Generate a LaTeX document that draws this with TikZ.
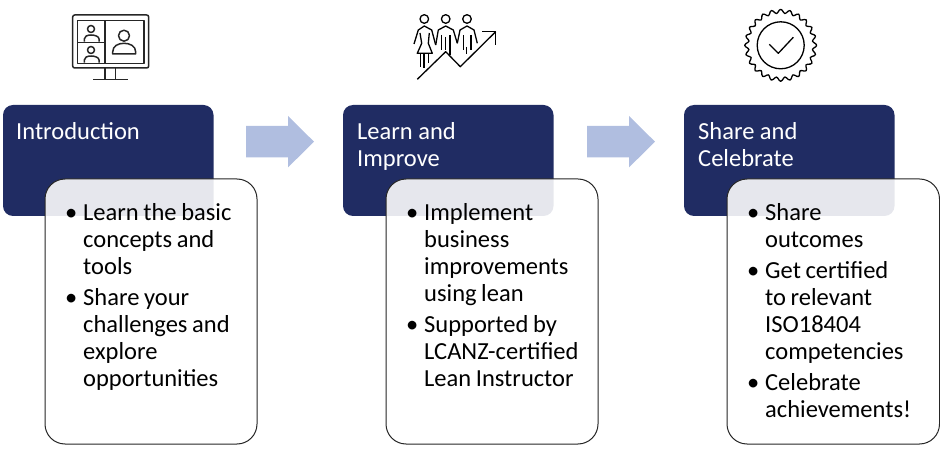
\documentclass[tikz,border=0pt]{standalone}
\usepackage{fontspec}
\setmainfont{Carlito}
\usepackage{tikz}

\definecolor{headblue}{HTML}{202C63}
\definecolor{arrowblue}{HTML}{B0BEE0}
\definecolor{framegrey}{HTML}{262626}

\newcommand{\bulitem}[1]{\par\spaceskip=4.6pt\relax\hangindent=18pt\hangafter=1\noindent\hbox to 18pt{\textbullet\hfil}#1\par}

\tikzset{
    headbox/.style={fill=headblue, rounded corners=10pt},
    bodybox/.style={draw=framegrey, line width=1pt, fill=white, fill opacity=0.89, rounded corners=20pt},
    headtext/.style={anchor=north west, inner sep=0pt, align=left, text=white, font=\fontsize{24.5}{27}\selectfont},
    bodytext/.style={anchor=north west, inner sep=0pt, align=left, text width=#1, font=\fontsize{24.5}{27}\selectfont\setlength{\parskip}{4pt}},
    icon/.style={draw=framegrey, line width=1.5pt, line join=round},
    thin icon/.style={draw=black, line width=1.3pt, line join=round}
}

\begin{document}
\begin{tikzpicture}[x=1pt,y=-1pt]

\useasboundingbox (0,0) rectangle (940,462);

\foreach \x/\y in {3/45,343/386,684/727}
    \fill [headbox] (\x,105) rectangle ++(210.5,111);

\foreach \x in {246,587}
    \fill [arrowblue] (\x,126) -- ++(42,0) -- ++(0,-10) -- ++(26,25.7) -- ++(-26,25.7) -- ++(0,-10) -- ++(-42,0) -- cycle;

\node (title1) [headtext] at (16,122) {Introduction};
\node (title2) [headtext] at (357,122) {Learn and\\Improve};
\node (title3) [headtext] at (698,122) {Share and\\Celebrate};

\draw [bodybox] (45,179) rectangle (257,444);
\draw [bodybox] (386,179) rectangle (598,444);
\draw [bodybox] (727,179) rectangle (939.5,444);

\node (list1) [bodytext=180pt] at (65,189) {%
\bulitem{Learn the basic\newline concepts and\newline tools}
\bulitem{Share your\newline challenges and\newline explore\newline opportunities}};

\node (list2) [bodytext=190pt] at (406,189) {%
\bulitem{Implement\newline business\newline improvements\newline using lean}
\bulitem{Supported by\newline LCANZ-certified\newline Lean Instructor}};

\node (list3) [bodytext=190pt] at (747,189) {%
\bulitem{Share\newline outcomes}
\bulitem{Get certified\newline to relevant\newline ISO18404\newline competencies}
\bulitem{Celebrate\newline achievements!}};

% monitor
\draw [icon, rounded corners=2pt] (72.7,15) rectangle (148.7,68);
\draw [icon] (77.7,20.7) rectangle (144,63.3);
\draw [icon] (105,20.7) -- (105,63.3);
\draw [icon] (77.7,42.3) -- (105,42.3);
\draw [icon] (105,68) -- (105,79.3);
\draw [icon] (115.7,68) -- (115.7,79.3);
\draw [icon] (93.3,79.3) -- (127.7,79.3);
\draw [icon] (124,35.7) circle (5.5pt);
\draw [icon] (112.7,54) -- (135.7,54) -- (135.7,52) .. controls (135.7,46) and (130,43.3) .. (124,43.3) .. controls (118,43.3) and (112.7,46) .. (112.7,52) -- cycle;
\foreach \y in {29,50}
{
    \draw [icon] (91,\y) circle (3.5pt);
    \draw [icon] (84.3,\y+12.7) -- (84.3,\y+10) .. controls (84.3,\y+7.5) and (87,\y+6) .. (91,\y+6) .. controls (95,\y+6) and (99,\y+7.5) .. (99,\y+10) -- (99,\y+12.7);
}

% people and rising arrow
\foreach \x in {424.3,445.7,467}
    \draw [thin icon] (\x,19) circle (4.3pt);

\draw [thin icon] (417.3,79.3) -- (445.7,51.7) -- (460.3,66.7) -- (495.7,31.7);
\draw [thin icon] (482.3,31.7) -- (495.7,31.7) -- (495.7,45);

\draw [thin icon] (414,44) -- (418.3,30) -- (424.3,26) -- (431.7,30) -- (435.7,45);
\draw [thin icon] (420,33) -- (421.7,43.3) -- (417.3,53.3) -- (432.3,53.3) -- (428.3,43.3) -- (429.3,33);
\draw [thin icon] (420.7,53.3) -- (420.7,66.7);
\draw [thin icon] (424,53.3) -- (424,67.7);
\draw [thin icon] (428.3,53.3) -- (428.3,63.3);

\draw [thin icon] (435.7,45) -- (438.3,30) -- (445.7,26) -- (453.3,30) -- (457.3,43.3);
\draw [thin icon] (441.7,35) -- (441.7,50);
\draw [thin icon] (450,35) -- (450,55);
\draw [thin icon] (445.7,37) -- (445.7,50);

\draw [thin icon] (457.3,43.3) -- (460,30) -- (467,26) -- (474,30) -- (477.3,43.3);
\draw [thin icon] (463.3,35) -- (463.3,50);
\draw [thin icon] (471,35) -- (471,50);
\draw [thin icon] (466.7,47) -- (466.7,54);

% badge
\draw [thin icon] (780.7,45.3) circle (23.5pt);
\draw [thin icon] plot [domain=0:360, samples=145, smooth] ({780.7+(34+2*cos(24*\x))*cos(\x)}, {45.3+(34+2*cos(24*\x))*sin(\x)}) -- cycle;
\draw [thin icon] (769.3,44.3) -- (778.3,53.3) -- (793.3,37.3);

\end{tikzpicture}
\end{document}
